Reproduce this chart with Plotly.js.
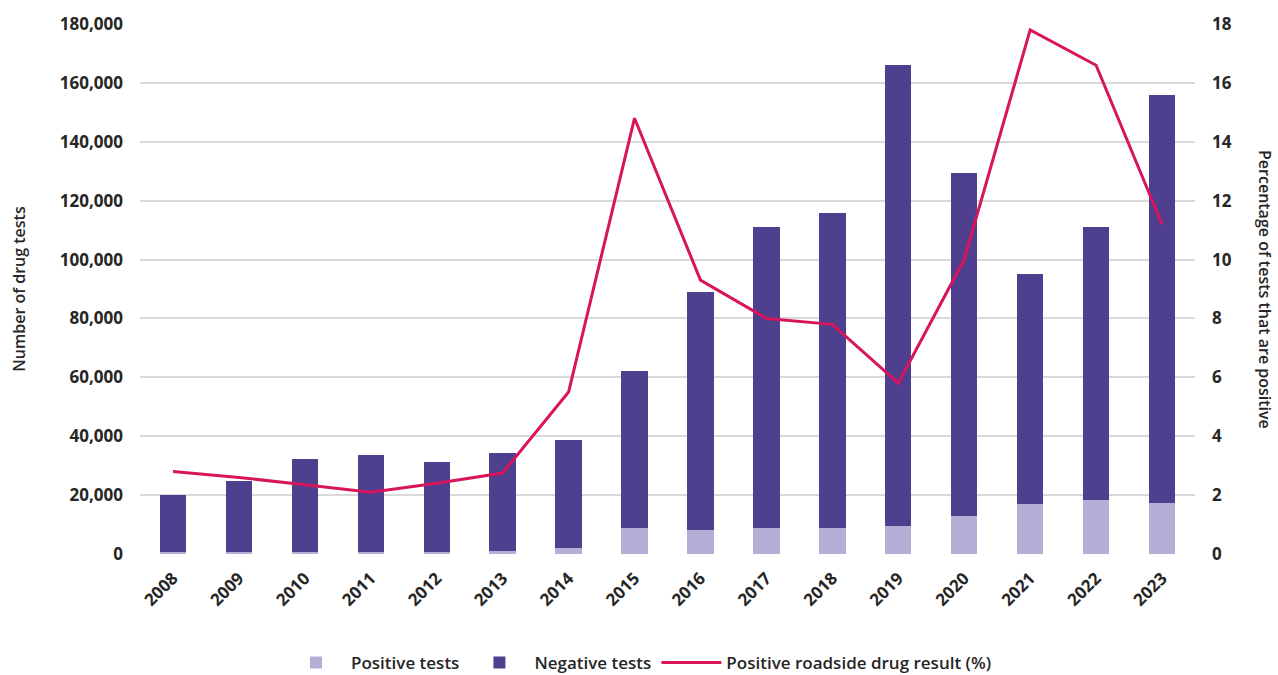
<!DOCTYPE html>
<html>
<head>
<meta charset="utf-8">
<script src="https://cdn.plot.ly/plotly-3.0.1.min.js"></script>
<style>html,body{margin:0;padding:0;background:#fff}#chart{width:1278px;height:675px}</style>
</head>
<body>
<div id="chart"></div>
<script>
const years = ["2008","2009","2010","2011","2012","2013","2014","2015","2016","2017","2018","2019","2020","2021","2022","2023"];
const positiveTests = [560, 650, 780, 700, 760, 950, 2100, 9000, 8200, 8800, 8900, 9400, 12900, 17000, 18500, 17400];
const totalTests = [20100, 24800, 32400, 33500, 31300, 34200, 38700, 62200, 89000, 111000, 115800, 166100, 129400, 95100, 111200, 155800];
const negativeTests = totalTests.map((t, i) => t - positiveTests[i]);
const positivePct = [2.8, 2.6, 2.35, 2.1, 2.4, 2.75, 5.5, 14.8, 9.3, 8.0, 7.8, 5.8, 10.0, 17.8, 16.6, 11.2];

const txt = '#262626';
const fontFam = '"Open Sans", "Noto Sans", sans-serif';

const data = [
  {type:'bar', name:'Positive tests', x:years, y:positiveTests, marker:{color:'#b5afd7'}},
  {type:'bar', name:'Negative tests', x:years, y:negativeTests, marker:{color:'#4e408e'}},
  {type:'scatter', mode:'lines', name:'Positive roadside drug result (%)', x:years, y:positivePct, yaxis:'y2',
   line:{color:'#d8145c', width:3}}
];

const layout = {
  width:1278, height:675,
  margin:{l:140, r:83, t:24, b:121, autoexpand:false},
  barmode:'stack', bargap:0.6,
  paper_bgcolor:'#fff', plot_bgcolor:'#fff',
  font:{family:fontFam, color:txt, size:16},
  showlegend:true,
  legend:{orientation:'h', x:0.5, xanchor:'center', xref:'container', y:0.018, yref:'container', yanchor:'middle',
          font:{size:17, weight:600, color:txt}, traceorder:'normal', itemwidth:60},
  xaxis:{type:'category', tickangle:-45, tickfont:{size:17, weight:700, color:txt}, automargin:false,
         ticklabelstandoff:10, showgrid:false, zeroline:false, showline:false, ticks:''},
  yaxis:{range:[0,180000], dtick:20000, tickformat:',d', showgrid:true, gridcolor:'#d9d9d9', gridwidth:1.5,
         zeroline:false, showline:false, ticks:'', tickfont:{size:17, weight:700, color:txt}, automargin:false,
         ticklabelstandoff:16,
         title:{text:'Number of drug tests', font:{size:16, weight:600, color:txt}, standoff:30}},
  yaxis2:{range:[0,18], dtick:2, overlaying:'y', side:'right', showgrid:false, zeroline:false, showline:false,
          ticks:'', tickfont:{size:17, weight:700, color:txt}, automargin:false, ticklabelstandoff:16},
  annotations:[
    {text:'Percentage of tests that are positive', xref:'paper', yref:'paper', x:1.0, xshift:70, y:0.5,
     xanchor:'center', yanchor:'middle', textangle:90, showarrow:false, font:{size:16, weight:600, color:txt}}
  ]
};

Plotly.newPlot('chart', data, layout, {displayModeBar:false, responsive:false});
</script>
</body>
</html>
